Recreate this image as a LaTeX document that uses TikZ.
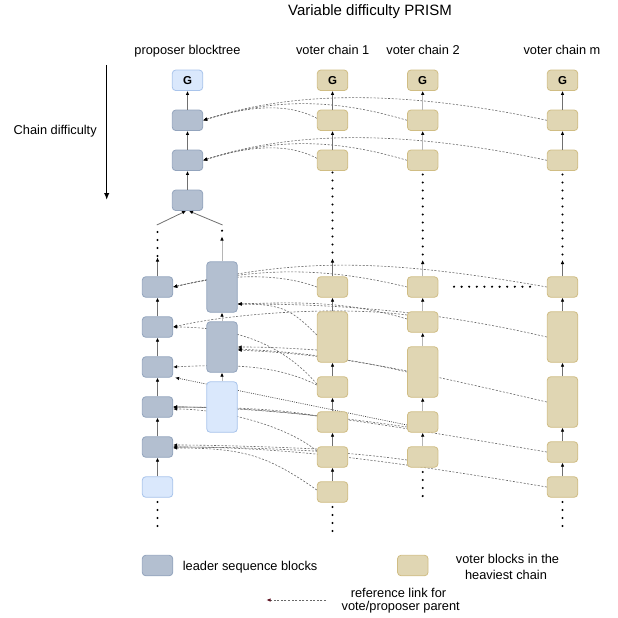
\documentclass[tikz,border=0pt]{standalone}
\usepackage{fontspec}
\setmainfont{Liberation Sans}
\usetikzlibrary{arrows.meta,calc}
\pgfdeclarelayer{bg}
\pgfsetlayers{bg,main}
\definecolor{pfill}{HTML}{B3BFD0}
\definecolor{pdraw}{HTML}{93A4BD}
\definecolor{nfill}{HTML}{DAE8FC}
\definecolor{ndraw}{HTML}{A9C4EB}
\definecolor{vfill}{HTML}{E0D6B3}
\definecolor{vdraw}{HTML}{D0BD84}
\definecolor{lnk}{HTML}{686868}
\definecolor{arrdark}{HTML}{707070}
\definecolor{arrlight}{HTML}{B5B5B5}
\definecolor{legtip}{HTML}{5C1020}
\begin{document}
\begin{tikzpicture}[x=1pt,y=-1pt,
 blk/.style={rounded corners=3.5pt, minimum width=30.5pt, minimum height=20.5pt, inner sep=0pt, line width=0.8pt},
 tall/.style={minimum height=50.5pt},
 pblk/.style={blk, fill=pfill, draw=pdraw},
 nblk/.style={blk, fill=nfill, draw=ndraw},
 vblk/.style={blk, fill=vfill, draw=vdraw},
 gtxt/.style={font=\fontsize{11.5}{13}\selectfont\bfseries},
 lbl/.style={font=\fontsize{12.8}{15}\selectfont, inner sep=0pt, anchor=base},
 carr/.style={draw=arrdark, line width=0.8pt, -{Latex[length=4pt,width=3.6pt,color=black]}},
 lcarr/.style={carr, draw=arrlight},
 link/.style={draw=lnk, line width=0.6pt, dash pattern=on 2pt off 1.6pt, -{Latex[length=4pt,width=3.4pt,color=black]}},
 dlink/.style={link, draw=black!75, dash pattern=on 1pt off 1.2pt, line width=0.65pt},
 dotcol/.style={line width=2.4pt, line cap=round, dash pattern=on 0pt off 8pt, black},
]
\useasboundingbox (0,0) rectangle (618,618);

% titles
\node[font=\fontsize{15}{18}\selectfont, inner sep=0pt, anchor=base] (title) at (370,16) {Variable difficulty PRISM};
\node[lbl] (lp) at (187.5,55) {proposer blocktree};
\node[lbl] (lv1) at (332.7,55) {voter chain 1};
\node[lbl] (lv2) at (423,55) {voter chain 2};
\node[lbl] (lvm) at (562,55) {voter chain m};
\node[lbl] (lcd) at (55.2,134.5) {Chain difficulty};
\coordinate (cd1) at (106.7,65);
\coordinate (cd2) at (106.7,200);
\draw[line width=1.4pt, -{Latex[length=7pt,width=5.5pt]}] (cd1) -- (cd2);

% upper proposer
\node[nblk,gtxt] (PG) at (187.5,80.3) {G};
\node[pblk] (P2) at (187.5,120.3) {};
\node[pblk] (P3) at (187.5,160.3) {};
\node[pblk] (P4) at (187.5,200.3) {};
% upper voters
\node[vblk,gtxt] (G1) at (332.5,80.3) {G};
\node[vblk] (V12) at (332.5,120.3) {};
\node[vblk] (V13) at (332.5,160.3) {};
\node[vblk,gtxt] (G2) at (422.7,80.3) {G};
\node[vblk] (V22) at (422.7,120.3) {};
\node[vblk] (V23) at (422.7,160.3) {};
\node[vblk,gtxt] (Gm) at (562.5,80.3) {G};
\node[vblk] (Vm2) at (562.5,120.3) {};
\node[vblk] (Vm3) at (562.5,160.3) {};

% lower proposer
\node[pblk] (L1) at (157.5,287) {};
\node[pblk] (L2) at (157.5,327) {};
\node[pblk] (L3) at (157.5,367) {};
\node[pblk] (L4) at (157.5,407) {};
\node[pblk] (L5) at (157.5,447) {};
\node[nblk] (L6) at (157.5,487) {};
\node[pblk,tall] (R1) at (222,287) {};
\node[pblk,tall] (R2) at (222,347) {};
\node[nblk,tall] (R3) at (222,407) {};

% lower voter chain 1
\node[vblk] (V1A) at (332.5,287) {};
\node[vblk,tall] (V1B) at (332.5,337) {};
\node[vblk] (V1C) at (332.5,387) {};
\node[vblk] (V1D) at (332.5,422) {};
\node[vblk] (V1E) at (332.5,457) {};
\node[vblk] (V1F) at (332.5,492) {};
% chain 2
\node[vblk] (V2A) at (422.7,287) {};
\node[vblk] (V2B) at (422.7,322) {};
\node[vblk,tall] (V2C) at (422.7,372) {};
\node[vblk] (V2D) at (422.7,422) {};
\node[vblk] (V2E) at (422.7,457) {};
% chain m
\node[vblk] (VmA) at (562.5,287) {};
\node[vblk,tall] (VmB) at (562.5,337) {};
\node[vblk,tall] (VmC) at (562.5,402) {};
\node[vblk] (VmD) at (562.5,452) {};
\node[vblk] (VmE) at (562.5,487) {};

% chain arrows (upper)
\draw[carr] (P2) -- (PG);
\draw[carr] (P3) -- (P2);
\draw[carr] (P4) -- (P3);
\coordinate (pl) at (156.8,225);
\coordinate (pr) at (222.6,225);
\draw[carr] (pl) -- ($(P4.south)+(-1.5,0)$);
\draw[carr] (pr) -- ($(P4.south)+(1.5,0)$);
\draw[carr] (V12) -- (G1);
\draw[carr] (V13) -- (V12);
\draw[lcarr] (V22) -- (G2);
\draw[lcarr] (V23) -- (V22);
\draw[carr] (Vm2) -- (Gm);
\draw[carr] (Vm3) -- (Vm2);

% dots columns
\coordinate (d1a) at (332.5,172.5); \coordinate (d1b) at (332.5,252.6);
\coordinate (d2a) at (422.7,174.5); \coordinate (d2b) at (422.7,254.6);
\coordinate (dma) at (562.5,174.5); \coordinate (dmb) at (562.5,254.6);
\draw[dotcol] (d1a) -- (d1b);
\draw[dotcol] (d2a) -- (d2b);
\draw[dotcol] (dma) -- (dmb);
\coordinate (dLa) at (157.5,232); \coordinate (dLb) at (157.5,256.1);
\draw[dotcol] (dLa) -- (dLb);
\fill[black] (222,230.7) circle[radius=1.2pt];
\coordinate (bLa) at (157.5,502); \coordinate (bLb) at (157.5,526.1);
\coordinate (b1a) at (332.5,507); \coordinate (b1b) at (332.5,531.1);
\coordinate (b2a) at (422.7,472); \coordinate (b2b) at (422.7,496.1);
\coordinate (bma) at (562.5,502); \coordinate (bmb) at (562.5,526.1);
\draw[dotcol] (bLa) -- (bLb);
\draw[dotcol] (b1a) -- (b1b);
\draw[dotcol] (b2a) -- (b2b);
\draw[dotcol] (bma) -- (bmb);
\coordinate (ha) at (454,286.7); \coordinate (hb) at (530.1,286.7);
\draw[dotcol, dash pattern=on 0pt off 7.6pt] (ha) -- (hb);

% chain arrows (lower)
\coordinate (tL) at (157.5,257.5);
\coordinate (tR) at (222,236.5);
\coordinate (t1) at (332.5,258.5);
\coordinate (t2) at (422.7,260);
\coordinate (tm) at (562.5,260);
\draw[carr] (L1) -- (tL);
\draw[carr] (L2) -- (L1);
\draw[carr] (L3) -- (L2);
\draw[carr] (L4) -- (L3);
\draw[carr] (L5) -- (L4);
\draw[carr] (L6) -- (L5);
\draw[lcarr] (R1) -- (tR);
\draw[lcarr] (R2) -- (R1);
\draw[lcarr] (R3) -- (R2);
\draw[carr] (V1A) -- (t1);
\draw[carr] (V1B) -- (V1A);
\draw[carr] (V1C) -- (V1B);
\draw[carr] (V1D) -- (V1C);
\draw[carr] (V1E) -- (V1D);
\draw[carr] (V1F) -- (V1E);
\draw[lcarr] (V2A) -- (t2);
\draw[lcarr] (V2B) -- (V2A);
\draw[lcarr] (V2C) -- (V2B);
\draw[lcarr] (V2D) -- (V2C);
\draw[lcarr] (V2E) -- (V2D);
\draw[carr] (VmA) -- (tm);
\draw[carr] (VmB) -- (VmA);
\draw[carr] (VmC) -- (VmB);
\draw[carr] (VmD) -- (VmC);
\draw[carr] (VmE) -- (VmD);

% reference links (behind blocks)
\begin{pgfonlayer}{bg}
\draw[link] ($(V12.west)+(0,-2)$) .. controls +(-30,-16) and +(45,-14) .. (P2.east);
\draw[link] (V22.west) .. controls +(-80,-24) and +(65,-20) .. (P2.east);
\draw[link] (Vm2.west) .. controls +(-150,-32) and +(85,-28) .. (P2.east);
\draw[link] ($(V13.west)+(0,-2)$) .. controls +(-30,-16) and +(45,-14) .. (P3.east);
\draw[link] (V23.west) .. controls +(-80,-24) and +(65,-20) .. (P3.east);
\draw[link] (Vm3.west) .. controls +(-150,-32) and +(85,-28) .. (P3.east);

\draw[link] (V1A.west) .. controls +(-40,-15) and +(50,-12) .. (L1.east);
\draw[link] (V2A.west) .. controls +(-90,-22) and +(80,-18) .. (L1.east);
\draw[link] (VmA.west) .. controls +(-170,-30) and +(120,-28) .. (L1.east);
\draw[link] ($(V1B.west)+(0,-2)$) .. controls +(-25,-25) and +(45,0) .. ($(R1.east)+(0,17)$);
\draw[link] ($(V2B.west)+(0,-3)$) .. controls +(-60,-18) and +(60,-2) .. ($(R1.east)+(0,17)$);
\draw[link] (VmB.west) .. controls +(-120,-28) and +(90,0) .. ($(R1.east)+(0,17)$);
\draw[link] ($(V2B.west)+(0,-7)$) .. controls +(-67,-9) and +(60,-14) .. (L2.east);
\draw[link] ($(V1C.west)+(0,-3)$) .. controls +(-30,-35) and +(70,0) .. (L2.east);
\draw[link] ($(V1C.west)+(0,-2)$) .. controls +(-40,-20) and +(60,-3) .. (L3.east);
\draw[link] ($(V1B.west)+(0,13)$) .. controls +(-30,-2) and +(30,0) .. (R2.east);
\draw[link] (V2C.west) .. controls +(-60,-14) and +(60,3) .. ($(R2.east)+(0,2)$);
\draw[link] (VmC.west) .. controls +(-150,-35) and +(100,5) .. ($(R2.east)+(0,3)$);
\draw[dlink] ($(V2D.west)+(0,3)$) -- ($(L3.south east)+(2,0)$);
\draw[link] ($(V1D.west)+(0,-6)$) .. controls +(-40,-8) and +(40,0) .. (L4.east);
\draw[link] ($(V2D.west)+(0,5)$) .. controls +(-80,-12) and +(60,0) .. (L4.east);
\draw[link] (VmD.west) .. controls +(-150,-25) and +(120,0) .. (L4.east);
\draw[link] ($(V1E.west)+(0,-6)$) .. controls +(-30,-25) and +(50,0) .. ($(L4.east)+(0,2)$);
\draw[link] ($(V1E.west)+(0,-8)$) .. controls +(-40,-2) and +(40,0) .. ($(L5.east)+(0,-2)$);
\draw[link] ($(V2E.west)+(0,3)$) .. controls +(-70,-10) and +(70,0) .. (L5.east);
\draw[link] (VmE.west) .. controls +(-150,-25) and +(120,0) .. (L5.east);
\draw[link] ($(V1F.west)+(0,-2)$) .. controls +(-50,-35) and +(70,0) .. ($(L5.east)+(0,1)$);
\end{pgfonlayer}

% legend
\node[pblk] (legP) at (157.5,565.5) {};
\node[lbl, anchor=base west] (legPt) at (182.7,570) {leader sequence blocks};
\node[vblk] (legV) at (412.8,565.5) {};
\node[lbl] (legVt1) at (507.5,563) {voter blocks in the};
\node[lbl] (legVt2) at (506,579) {heaviest chain};
\coordinate (la1) at (326,600);
\coordinate (la2) at (266.5,600);
\draw[link, -{Latex[length=4pt,width=3.4pt,color=legtip]}] (la1) -- (la2);
\node[lbl] (refT1) at (398.5,597) {reference link for};
\node[lbl] (refT2) at (400.7,610.5) {vote/proposer parent};
\end{tikzpicture}
\end{document}
